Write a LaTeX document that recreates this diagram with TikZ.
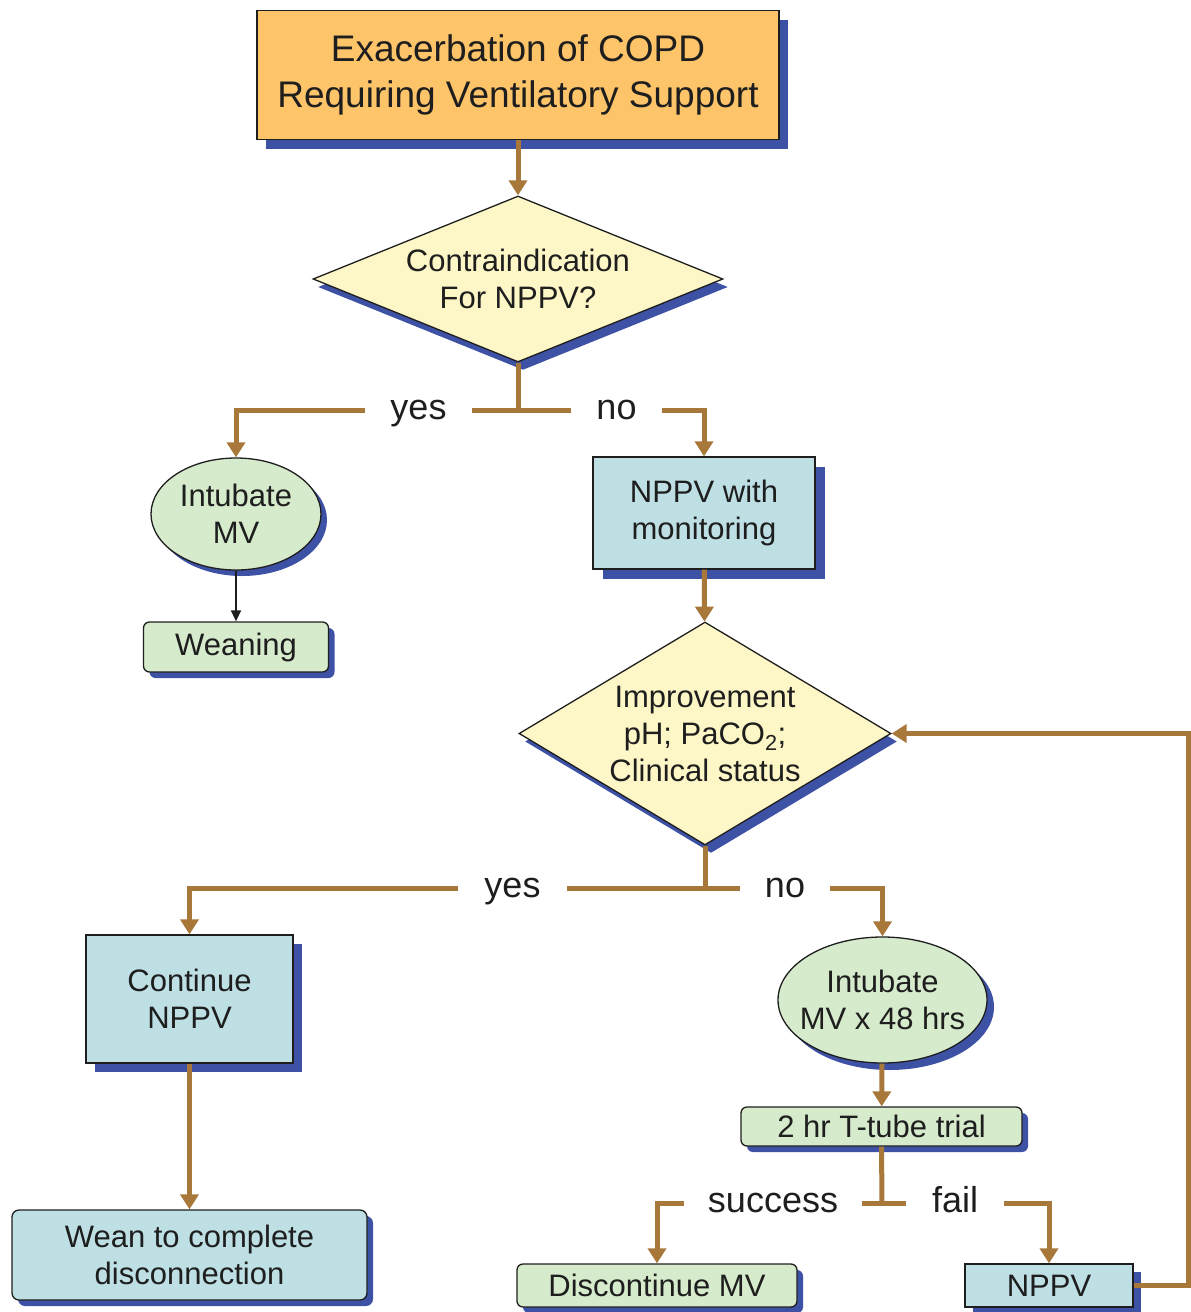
\documentclass[tikz,border=0pt]{standalone}
\usepackage{fontspec}
\setmainfont{Liberation Sans}
\usetikzlibrary{shapes.geometric,arrows.meta,shadows}

\definecolor{flowbrown}{RGB}{168,120,58}
\definecolor{shadeblue}{RGB}{62,82,165}
\definecolor{startfill}{RGB}{253,196,106}
\definecolor{askfill}{RGB}{253,246,198}
\definecolor{actfill}{RGB}{190,223,228}
\definecolor{endfill}{RGB}{214,234,204}
\definecolor{ink}{RGB}{30,30,30}

% a centred line that takes no width, so the oval keeps its own size
\newcommand{\oline}[1]{\makebox[0pt]{#1}}

\tikzset{
  base/.style={draw=ink, line width=1.3pt, text=ink, align=center, inner sep=0pt,
    font=\fontsize{31}{37}\selectfont},
  shade/.style={drop shadow={shadow xshift=#1, shadow yshift=-#1, fill=shadeblue, opacity=1}},
  shade/.default=8pt,
  startbox/.style={base, rectangle, fill=startfill, font=\fontsize{37}{46}\selectfont},
  askbox/.style={base, diamond, fill=askfill},
  actbox/.style={base, rectangle, fill=actfill},
  roundact/.style={base, rectangle, rounded corners=7pt, fill=actfill},
  endoval/.style={base, ellipse, fill=endfill},
  endbox/.style={base, rectangle, rounded corners=6pt, fill=endfill},
  tag/.style={text=ink, inner ysep=0pt, inner xsep=25pt, text height=18.5pt, text depth=0pt,
    font=\fontsize{36}{40}\selectfont},
  flow/.style={draw=flowbrown, line width=5pt},
  flowarrow/.style={flow, -{Triangle[width=18pt,length=15pt]}},
  thinarrow/.style={draw=ink, line width=1.6pt, -{Triangle[width=10pt,length=11pt]}}
}

\begin{document}
\begin{tikzpicture}[x=1pt,y=-1pt]
\useasboundingbox (0,0) rectangle (1191,1312);

% boxes
\node[startbox, shade=9pt, minimum width=522pt, minimum height=129pt] (start) at (518,75)
  {Exacerbation of COPD\\Requiring Ventilatory Support};
\node[askbox, aspect=2.47, drop shadow={shadow xshift=5pt, shadow yshift=-8pt, fill=shadeblue, opacity=1},
  minimum width=410pt, minimum height=166pt] (ask1) at (518,279)
  {Contraindication\\For NPPV?};
\node[endoval, shade=6pt, minimum width=170pt, minimum height=112pt] (intub) at (236,514)
  {\oline{Intubate}\\\oline{MV}};
\node[endbox, shade=6pt, minimum width=185pt, minimum height=50pt] (wean) at (236,647)
  {Weaning};
\node[actbox, shade=10pt, minimum width=222pt, minimum height=112pt] (monitor) at (704,513)
  {NPPV with\\monitoring};
\node[askbox, aspect=1.67, drop shadow={shadow xshift=6pt, shadow yshift=-8pt, fill=shadeblue, opacity=1},
  minimum width=372pt, minimum height=223pt] (ask2) at (705,733.5)
  {Improvement\\pH; PaCO\textsubscript{2};\\Clinical status};
\node[actbox, shade=9pt, minimum width=207pt, minimum height=128pt] (cont) at (189.5,999)
  {Continue\\NPPV};
\node[roundact, shade=6pt, minimum width=355pt, minimum height=90pt] (full) at (189.5,1255)
  {Wean to complete\\disconnection};
\node[endoval, shade=7pt, minimum width=209pt, minimum height=126pt] (intub48) at (882.5,1000)
  {\oline{Intubate}\\\oline{MV x 48 hrs}};
\node[endbox, shade=6pt, minimum width=281pt, minimum height=39pt]
  (trial) at (881.5,1126.5) {2 hr T-tube trial};
\node[endbox, shade=6pt, minimum width=280pt, minimum height=43pt] (stop) at (657,1285.5)
  {Discontinue MV};
\node[actbox, shade=8pt, minimum width=168pt, minimum height=43pt] (retry) at (1049,1285.5)
  {NPPV};

% branch labels
\node[tag] (yes1) at (418.5,410) {yes};
\node[tag] (no1) at (616.5,410) {no};
\node[tag, inner xsep=26pt] (yes2) at (512.5,888) {yes};
\node[tag] (no2) at (785,888) {no};
\node[tag, inner xsep=24pt] (succ) at (773,1203) {success};
\node[tag, inner xsep=26pt] (fail) at (955,1203) {fail};

% junctions
\coordinate (j1) at (518,410);
\coordinate (j2) at (705,888);
\coordinate (j3) at (882,1203);
\coordinate (loop) at (1188,1285.5);

% connectors
\draw[flowarrow] (start) -- (ask1);
\draw[flow] (ask1.south) -- (j1);
\draw[flow] (yes1.east) -- (no1.west);
\draw[flowarrow] (yes1.west) -| (intub.north);
\draw[flowarrow] (no1.east) -| (monitor.north);
\draw[thinarrow] (intub) -- (wean);
\draw[flowarrow] (monitor) -- (ask2);
\draw[flow] (ask2.south) -- (j2);
\draw[flow] (yes2.east) -- (no2.west);
\draw[flowarrow] (yes2.west) -| (cont.north);
\draw[flowarrow] (no2.east) -| (intub48.north);
\draw[flowarrow] (cont) -- (full);
\draw[flowarrow] (intub48) -- (trial);
\draw[flow] (trial.south) -- (j3);
\draw[flow] (succ.east) -- (fail.west);
\draw[flowarrow] (succ.west) -| (stop.north);
\draw[flowarrow] (fail.east) -| (retry.north);
\draw[flowarrow] (retry.east) -- (loop) |- (ask2.east);
\end{tikzpicture}
\end{document}
